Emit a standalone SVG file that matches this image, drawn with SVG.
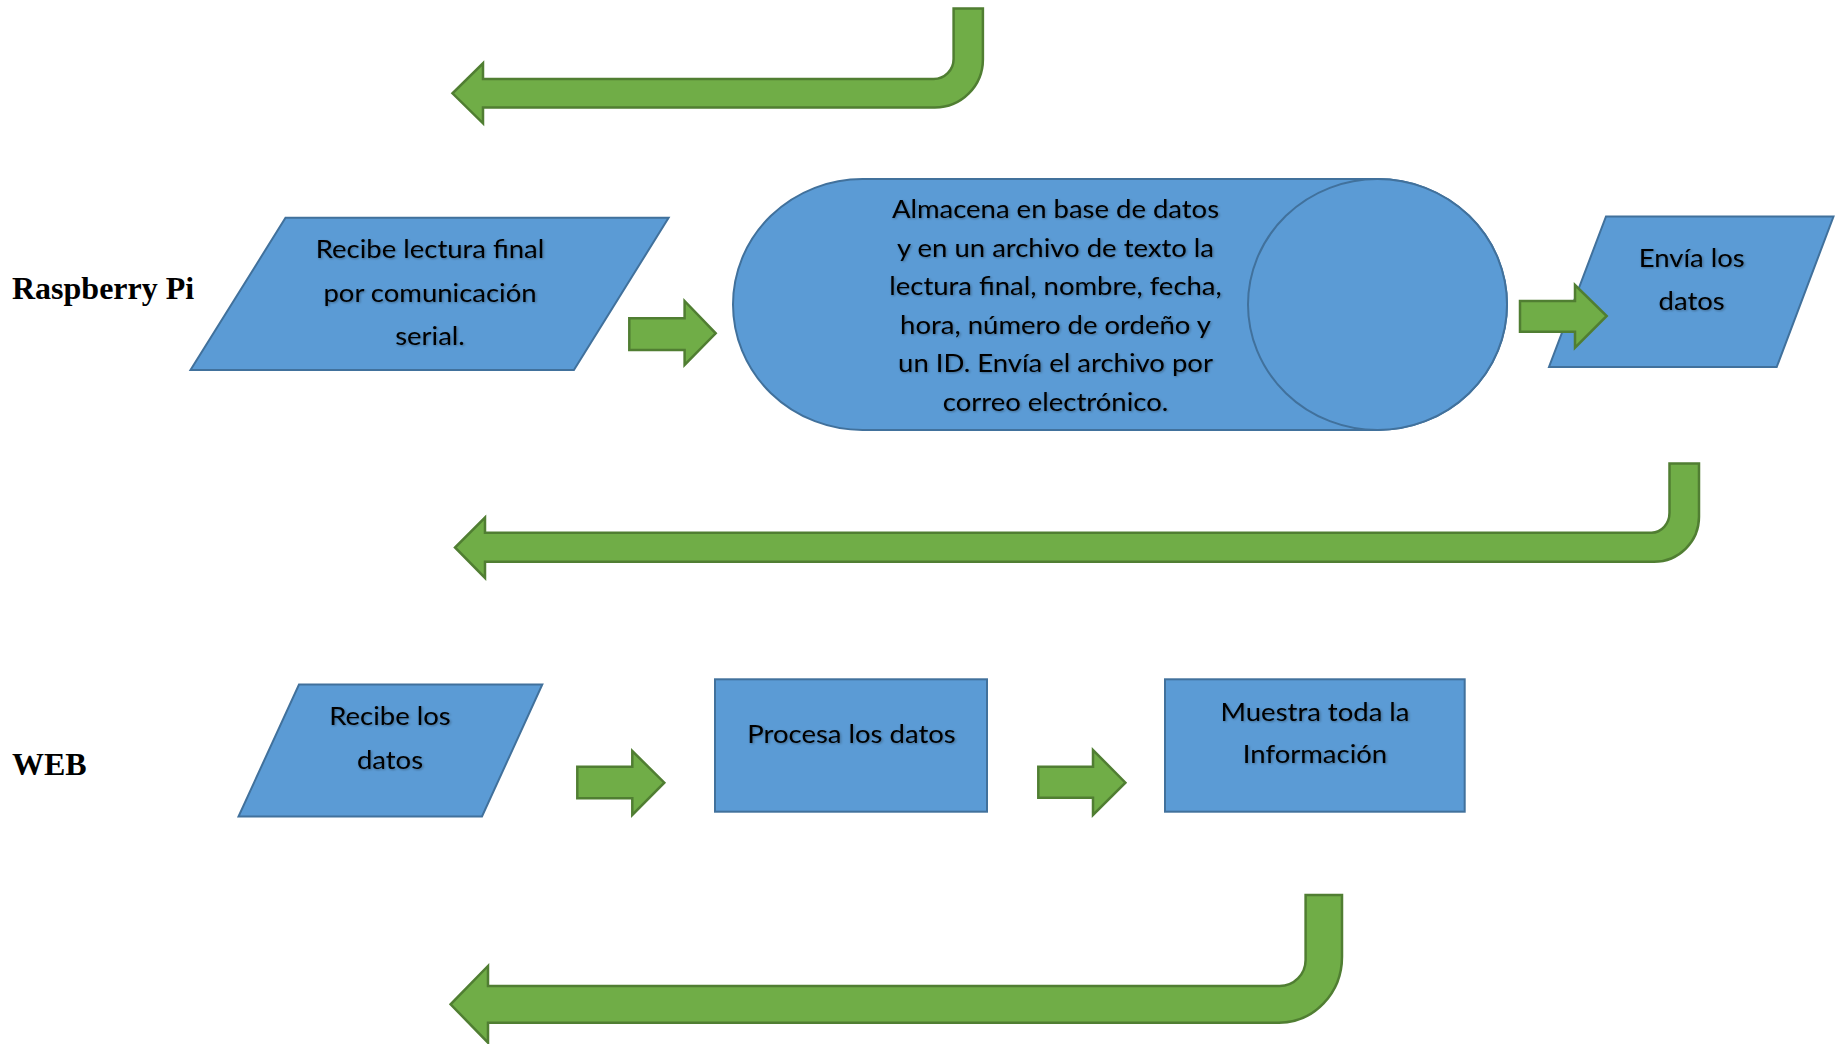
<svg xmlns="http://www.w3.org/2000/svg" width="1836" height="1044" viewBox="0 0 1836 1044">
  <style>
    .shape { fill: #5B9BD5; stroke: #41719C; stroke-width: 2; }
    .arrow { fill: #70AD47; stroke: #507E32; stroke-width: 2.5; stroke-linejoin: miter; }
    .body { font-family: Lato, "Open Sans", sans-serif; font-size: 25px; fill: #000; text-anchor: middle; filter: url(#soft); }
    .lane { font-family: "Liberation Serif", "Times New Roman", serif; font-size: 32px; font-weight: bold; fill: #000; }
  </style>
  <defs>
    <filter id="soft" x="-10%" y="-30%" width="120%" height="160%">
      <feGaussianBlur in="SourceAlpha" stdDeviation="1.3" result="b"/>
      <feOffset in="b" dx="1" dy="1" result="o"/>
      <feComponentTransfer in="o" result="s">
        <feFuncA type="linear" slope="0.35"/>
      </feComponentTransfer>
      <feMerge>
        <feMergeNode in="s"/>
        <feMergeNode in="SourceGraphic"/>
      </feMerge>
    </filter>
  </defs>
  <rect width="1836" height="1044" fill="#fff"/>

  <!-- lane labels -->
  <text class="lane" x="12" y="299">Raspberry Pi</text>
  <text class="lane" x="12" y="775">WEB</text>

  <!-- Raspberry Pi row -->
  <g id="recibe-lectura">
    <polygon class="shape" points="285.5,217.8 668.6,217.8 573.9,370 190.5,370"/>
    <g transform="translate(430,0) scale(1.1,1)">
      <text class="body" x="0" y="258.5">Recibe lectura final</text>
      <text class="body" x="0" y="302.5">por comunicación</text>
      <text class="body" x="0" y="345.5">serial.</text>
    </g>
  </g>

  <g id="almacena">
    <path class="shape" d="M862.5,179 H1377.5 A129.5,125.5 0 0 1 1377.5,430 H862.5 A129.5,125.5 0 0 1 862.5,179 Z"/>
    <ellipse class="shape" cx="1377.5" cy="304.5" rx="129.5" ry="125.5"/>
    <g transform="translate(1055.5,0) scale(1.1,1)">
      <text class="body" x="0" y="218.5">Almacena en base de datos</text>
      <text class="body" x="0" y="257">y en un archivo de texto la</text>
      <text class="body" x="0" y="295.5">lectura final, nombre, fecha,</text>
      <text class="body" x="0" y="334">hora, número de ordeño y</text>
      <text class="body" x="0" y="372.5">un ID. Envía el archivo por</text>
      <text class="body" x="0" y="411">correo electrónico.</text>
    </g>
  </g>

  <g id="envia">
    <polygon class="shape" points="1606,216.5 1833.5,216.5 1776.7,367 1549,367"/>
    <g transform="translate(1691.7,0) scale(1.1,1)">
      <text class="body" x="0" y="266.7">Envía los</text>
      <text class="body" x="0" y="310">datos</text>
    </g>
  </g>

  <!-- WEB row -->
  <g id="recibe-datos">
    <polygon class="shape" points="299,684.5 542.3,684.5 482,816.5 238.5,816.5"/>
    <g transform="translate(390,0) scale(1.1,1)">
      <text class="body" x="0" y="725">Recibe los</text>
      <text class="body" x="0" y="769">datos</text>
    </g>
  </g>

  <g id="procesa">
    <rect class="shape" x="715" y="679.3" width="272" height="132.4"/>
    <g transform="translate(851.5,0) scale(1.1,1)">
      <text class="body" x="0" y="742.7">Procesa los datos</text>
    </g>
  </g>

  <g id="muestra">
    <rect class="shape" x="1165" y="679.3" width="299.7" height="132.4"/>
    <g transform="translate(1315,0) scale(1.1,1)">
      <text class="body" x="0" y="720.7">Muestra toda la</text>
      <text class="body" x="0" y="763.5">Información</text>
    </g>
  </g>

  <!-- connectors -->
  <g id="connectors">
    <!-- bent return arrows -->
    <path class="arrow" d="M953.6,8.5 H982.9 V59.5 A48,48 0 0 1 934.9,107.5 H483 V123.3 L452.5,93.3 L483,63.3 V79 H933.6 A20,20 0 0 0 953.6,59 Z"/>
    <path class="arrow" d="M1669.5,463.5 H1699 V516.7 A45,45 0 0 1 1654,561.7 H485 V578 L455,547.5 L485,517.5 V532.7 H1651.5 A18,20 0 0 0 1669.5,512.7 Z"/>
    <path class="arrow" d="M1305.6,895 H1342 V956.7 A63,66 0 0 1 1279,1022.7 H488 V1042.7 L450.6,1004.3 L488,966 V986 H1279.6 A26,26 0 0 0 1305.6,960 Z"/>

    <!-- straight block arrows -->
    <polygon class="arrow" points="629.3,318.3 684.6,318.3 684.6,301 715.7,333.3 684.6,365 684.6,350 629.3,350"/>
    <polygon class="arrow" points="1520,301 1575,301 1575,285 1606.7,316 1575,347.7 1575,331.7 1520,331.7"/>
    <polygon class="arrow" points="577.3,766.7 632.3,766.7 632.3,751 664.3,782.7 632.3,815 632.3,798.3 577.3,798.3"/>
    <polygon class="arrow" points="1038.3,766.7 1093,766.7 1093,750 1125.4,782.7 1093,815 1093,797.7 1038.3,797.7"/>
  </g>
</svg>
